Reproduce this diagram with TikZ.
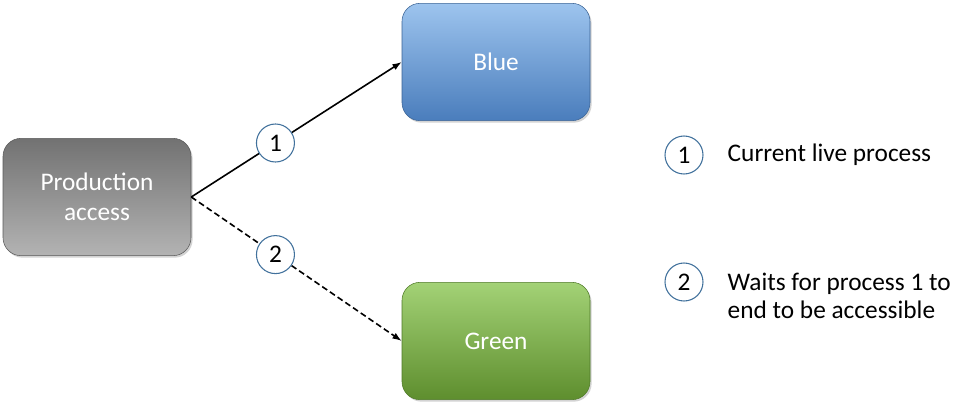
\documentclass[tikz,border=0pt]{standalone}
\usepackage{fontspec}
\setmainfont{Carlito}
\usepackage{tikz}
\usetikzlibrary{arrows.meta}
\usetikzlibrary{positioning}
\usetikzlibrary{shadows}
\definecolor{prodtop}{HTML}{727272}
\definecolor{prodbot}{HTML}{B3B3B3}
\definecolor{prodline}{HTML}{5A5A5A}
\definecolor{bluetop}{HTML}{9DC4EE}
\definecolor{bluebot}{HTML}{4A7DBC}
\definecolor{blueline}{HTML}{3A6395}
\definecolor{greentop}{HTML}{A3D276}
\definecolor{greenbot}{HTML}{5E8E2E}
\definecolor{greenline}{HTML}{4F7A28}
\definecolor{ringline}{HTML}{41719C}
\tikzset{box/.style = {rounded corners=13.5pt, minimum width=141pt, minimum height=88pt,
                       text=white, align=center, font=\fontsize{19}{22.5}\selectfont,
                       drop shadow={shadow xshift=1.2pt, shadow yshift=-1.5pt, opacity=0.35}},
         numring/.style = {circle, solid, draw=ringline, fill=white, line width=0.8pt,
                           minimum size=28.5pt, inner sep=0pt, font=\fontsize{19}{20}\selectfont},
         link/.style = {line width=1.2pt, -{Latex[length=7pt,width=5pt]}},
         keytext/.style = {anchor=west, align=left, font=\fontsize{19}{21}\selectfont}}

\begin{document}
\begin{tikzpicture}[x=0.75pt, y=-0.75pt]
  \useasboundingbox (0,0) rectangle (970,404);
    \node [box, draw=prodline, top color=prodtop, bottom color=prodbot] (prod) at (97,197) {Production\\access};
    \node [box, draw=blueline, top color=bluetop, bottom color=bluebot] (blue) at (496,62) {Blue};
    \node [box, draw=greenline, top color=greentop, bottom color=greenbot] (green) at (496,341) {Green};
    \draw [link] (prod.east) -- node [numring, pos=0.4] (one) {1} (blue.west);
    \draw [link, dash pattern=on 4.5pt off 2.5pt] (prod.east) -- node [numring, pos=0.4] (two) {2} (green.west);
    \node [numring] (keyone) at (684,155) {1};
    \node [keytext] (keyonetext) at (723,155) {Current live process};
    \node [numring] (keytwo) at (684,282) {2};
    \node [keytext] (keytwotext) at (723,296) {Waits for process 1 to\\end to be accessible};
  \end{tikzpicture}
\end{document}
